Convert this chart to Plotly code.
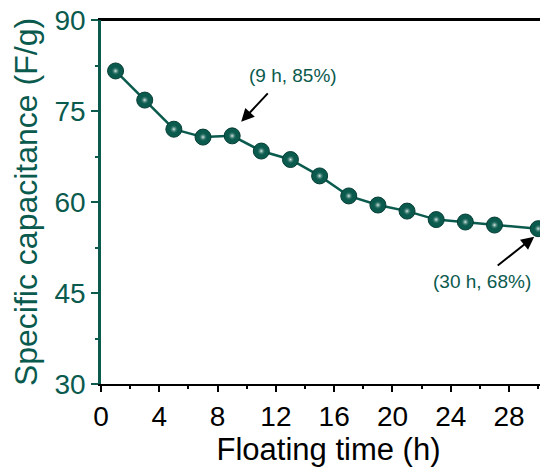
import plotly.graph_objects as go

hours = [1, 3, 5, 7, 9, 11, 13, 15, 17, 19, 21, 23, 25, 27, 30]
capacitance = [81.6, 76.8, 72.0, 70.7, 70.9, 68.4, 67.0, 64.3, 61.0, 59.5, 58.5, 57.1, 56.7, 56.2, 55.6]
x_ticks = [0, 4, 8, 12, 16, 20, 24, 28]
y_ticks = [30, 45, 60, 75, 90]
note_9h = "(9 h, 85%)"
note_30h = "(30 h, 68%)"

TEAL = "#0b5a4e"
FONT = "Liberation Sans, Arial, sans-serif"

fig = go.Figure()
fig.add_trace(go.Scatter(
    x=hours, y=capacitance, mode="lines+markers", cliponaxis=False,
    line=dict(color=TEAL, width=2.5),
    marker=dict(size=16, color=TEAL, line=dict(color="#063d35", width=1)),
    showlegend=False, hoverinfo="skip"))
fig.add_trace(go.Scatter(
    x=hours, y=capacitance, mode="markers", cliponaxis=False,
    marker=dict(size=9, color="rgba(11,90,78,0)",
                gradient=dict(type="radial", color="#dfeeea"), line=dict(width=0)),
    showlegend=False, hoverinfo="skip"))
# invisible trace for the right (cropped) axis ticks
fig.add_trace(go.Scatter(x=[None], y=[None], yaxis="y2", showlegend=False))

i9 = hours.index(9)
i30 = hours.index(30)
fig.add_annotation(x=hours[i9], y=capacitance[i9], xshift=9, yshift=14, text="",
                   showarrow=True, arrowhead=2, arrowsize=1.3, arrowwidth=2,
                   arrowcolor="black", ax=28, ay=-30)
fig.add_annotation(x=hours[i9], y=capacitance[i9], xshift=61, yshift=60, text=note_9h,
                   showarrow=False, font=dict(family=FONT, size=19, color=TEAL))
fig.add_annotation(x=hours[i30], y=capacitance[i30], xshift=-4, yshift=-8, text="",
                   showarrow=True, arrowhead=2, arrowsize=1.3, arrowwidth=2,
                   arrowcolor="black", ax=-38, ay=30)
fig.add_annotation(x=hours[i30], y=capacitance[i30], xshift=-56, yshift=-53, text=note_30h,
                   showarrow=False, font=dict(family=FONT, size=19, color=TEAL))

# top frame line
fig.add_shape(type="line", xref="paper", yref="paper", x0=0, x1=1, y0=1, y1=1,
              line=dict(color="black", width=2), layer="above")

fig.update_layout(
    width=548, height=470,
    margin=dict(l=93, r=0, t=12, b=94),
    plot_bgcolor="white", paper_bgcolor="white",
    font=dict(family=FONT),
    xaxis=dict(
        range=[0, 31.22], tickvals=x_ticks, ticks="outside", ticklen=6, tickwidth=2,
        tickcolor="black", showline=True, linecolor="black", linewidth=2, mirror=True,
        showgrid=False, zeroline=False, automargin=False, ticklabeloverflow="allow",
        minor=dict(dtick=2, ticks="outside", ticklen=3, tickwidth=2, tickcolor="black"),
        tickfont=dict(family=FONT, size=28, color="black"),
        title=dict(text="Floating time (h)", font=dict(family=FONT, size=31, color="black"),
                   standoff=2)),
    yaxis=dict(
        range=[30, 90], tickvals=y_ticks, ticks="outside", ticklen=7, tickwidth=2,
        tickcolor=TEAL, showline=True, linecolor=TEAL, linewidth=2.5,
        showgrid=False, zeroline=False, automargin=False, ticklabeloverflow="allow",
        minor=dict(dtick=7.5, ticks="outside", ticklen=3, tickwidth=2, tickcolor=TEAL),
        tickfont=dict(family=FONT, size=28, color=TEAL),
        title=dict(text="Specific capacitance (F/g)", font=dict(family=FONT, size=32, color=TEAL),
                   standoff=9)),
    yaxis2=dict(
        overlaying="y", side="right", range=[0, 5], dtick=1, ticks="inside", ticklen=11,
        tickwidth=2, tickcolor="black", showticklabels=False, showline=False,
        showgrid=False, zeroline=False, automargin=False),
)

fig.write_html("out.html")
